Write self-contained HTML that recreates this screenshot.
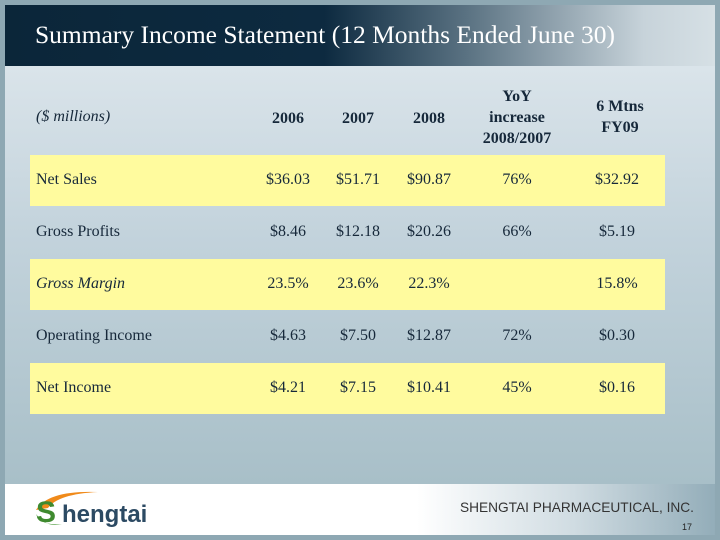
<!DOCTYPE html>
<html><head><meta charset="utf-8"><style>
body{margin:0;width:720px;height:540px;overflow:hidden;background:#8ea8b3;font-family:"Liberation Serif",serif;color:#16283a}
.abs{position:absolute}
#hdr{left:5px;top:5px;width:710px;height:61px;background:linear-gradient(90deg,#0b2639 0%,#0d2a40 45%,#5a7282 65%,#c7d3da 90%,#d6e0e5 100%)}
#title{left:35px;top:20px;font-size:25.5px;color:#fff;white-space:nowrap}
#panel{left:5px;top:66px;width:710px;height:418px;background:linear-gradient(180deg,#dae4ea 0%,#c3d3dc 40%,#a8bfc8 100%)}
#foot{left:5px;top:484px;width:710px;height:51px;background:linear-gradient(90deg,#fff 0%,#fff 58%,#d0dce2 80%,#93adb9 100%)}
.row{position:absolute;left:30px;width:635px;height:51px}
.y{background:#fffb9e}
.c{position:absolute;font-size:16px;white-space:nowrap;transform:translateX(-50%)}
.l{position:absolute;left:36px;font-size:16px;white-space:nowrap}
.h{position:absolute;font-size:16px;font-weight:bold;text-align:center;transform:translateX(-50%);line-height:21px;white-space:nowrap}
</style></head><body>
<div class="abs" id="hdr"></div>
<div class="abs" id="title">Summary Income Statement (12 Months Ended June 30)</div>
<div class="abs" id="panel"></div>
<div class="abs" id="foot"></div>

<div class="l" style="top:108px;font-style:italic">($ millions)</div>
<div class="h" style="left:288px;top:108px">2006</div>
<div class="h" style="left:358px;top:108px">2007</div>
<div class="h" style="left:429px;top:108px">2008</div>
<div class="h" style="left:517px;top:86px">YoY<br>increase<br>2008/2007</div>
<div class="h" style="left:620px;top:96px">6 Mtns<br>FY09</div>

<div class="row y" style="top:155px"></div>
<div class="row y" style="top:259px"></div>
<div class="row y" style="top:363px"></div>

<div id="cells"></div>

<div class="abs" style="left:28px;top:484px;width:150px;height:48px">
<svg width="150" height="48"><path d="M8 26 Q20 6 70 8 Q30 10 20 24 Z" fill="#f08a1a"/><path d="M8 30 Q12 42 34 40 Q18 44 8 30Z" fill="#4a9a3a"/>
<text x="8" y="38" font-family="Liberation Sans,sans-serif" font-size="30" font-weight="bold" fill="#3f8a2f">S</text>
<text x="34" y="38" font-family="Liberation Sans,sans-serif" font-size="24" font-weight="bold" fill="#2c4a63">hengtai</text></svg></div>
<div class="abs" style="left:460px;top:500px;font-family:'Liberation Sans',sans-serif;font-size:13.7px;color:#333;white-space:nowrap">SHENGTAI PHARMACEUTICAL, INC.</div>
<div class="abs" style="left:682px;top:522px;font-family:'Liberation Sans',sans-serif;font-size:9px;color:#222">17</div>

<script>
const rowLabels=["Net Sales","Gross Profits","Gross Margin","Operating Income","Net Income"];
const v2006=["$36.03","$8.46","23.5%","$4.63","$4.21"];
const v2007=["$51.71","$12.18","23.6%","$7.50","$7.15"];
const v2008=["$90.87","$20.26","22.3%","$12.87","$10.41"];
const vYoY=["76%","66%","","72%","45%"];
const v6m=["$32.92","$5.19","15.8%","$0.30","$0.16"];
const cols=[[v2006,288],[v2007,358],[v2008,429],[vYoY,517],[v6m,617]];
const box=document.getElementById('cells');
rowLabels.forEach((lab,i)=>{
  const top=171+i*52;
  const l=document.createElement('div');
  l.className='l';l.style.top=top+'px';
  if(i===2)l.style.fontStyle='italic';
  l.textContent=lab;
  
  
  box.appendChild(l);
  cols.forEach(([arr,x])=>{
    const c=document.createElement('div');
    c.className='c';c.style.left=x+'px';c.style.top=top+'px';
    c.textContent=arr[i];
    
    
    box.appendChild(c);
  });
});
</script>
</body></html>
